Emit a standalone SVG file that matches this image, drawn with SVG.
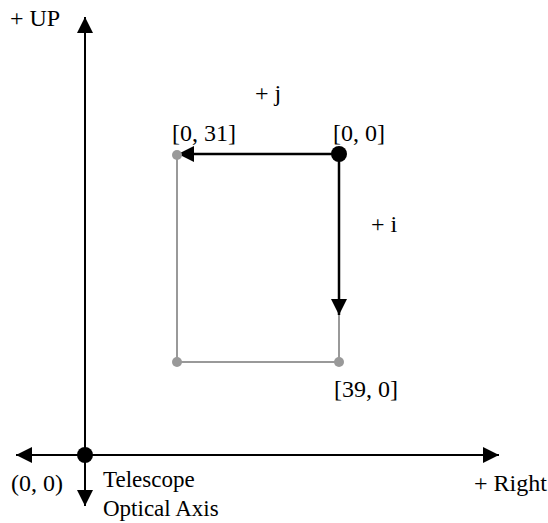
<svg xmlns="http://www.w3.org/2000/svg" width="548" height="523" viewBox="0 0 548 523">
<style>
text{font-family:"Liberation Serif",Tinos,"Times New Roman","DejaVu Serif",serif;font-size:24px;fill:#000}
.ax{stroke:#000;stroke-width:2;fill:none}
.vec{stroke:#000;stroke-width:2.5;fill:none}
.box{stroke:#999;stroke-width:2;fill:none}
.sm{font-size:23px}
</style>
<defs>
<marker id="ah" markerUnits="userSpaceOnUse" markerWidth="16" markerHeight="16" refX="16" refY="8" orient="auto-start-reverse" viewBox="0 0 16 16">
<path d="M0,0 L16,8 L0,16 z" fill="#000"/>
</marker>
</defs>
<g id="connectors">
<line class="ax" x1="85" y1="506" x2="85" y2="17" marker-start="url(#ah)" marker-end="url(#ah)"/>
<line class="ax" x1="16" y1="455" x2="499" y2="455" marker-start="url(#ah)" marker-end="url(#ah)"/>
<line class="box" x1="177" y1="155" x2="177" y2="362"/>
<line class="box" x1="177" y1="362" x2="339" y2="362"/>
<line class="box" x1="339" y1="300" x2="339" y2="362"/>
<line class="vec" x1="339" y1="154" x2="178" y2="154" marker-end="url(#ah)"/>
<line class="vec" x1="339" y1="154" x2="339" y2="315" marker-end="url(#ah)"/>
</g>
<g id="origin"><circle cx="85" cy="455" r="8" fill="#000"/><text x="11" y="491">(0, 0)</text></g>
<g id="corner00"><circle cx="339" cy="154" r="8" fill="#000"/><text x="333" y="141">[0, 0]</text></g>
<g id="corner031"><circle cx="177" cy="155" r="5" fill="#999"/><text x="172" y="141">[0, 31]</text></g>
<g id="corner390"><circle cx="339" cy="362" r="5" fill="#999"/><text x="334" y="397">[39, 0]</text></g>
<g id="corner3931"><circle cx="177" cy="362" r="5" fill="#999"/></g>
<g id="labels">
<text x="10" y="26">+ UP</text>
<text x="255" y="101">+ j</text>
<text x="371" y="232">+ i</text>
<text x="474" y="491">+ Right</text>
<text class="sm" x="103" y="487">Telescope</text>
<text class="sm" x="103" y="516">Optical Axis</text>
</g>
</svg>
